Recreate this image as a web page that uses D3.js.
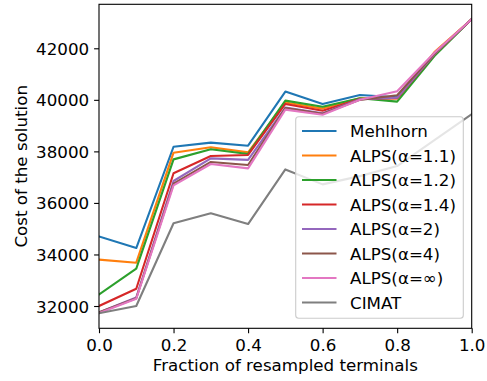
<!DOCTYPE html>
<meta charset="utf-8">
<style>
body {
  margin: 0;
  background: #fff; }
svg text {
  font-family: "DejaVu Sans", sans-serif;
  font-size: 16.7px;
  fill: #000; }
.axis path, .axis line {
  stroke: #000;
  stroke-width: 1.1px;
  shape-rendering: auto; }
.series {
  fill: none;
  stroke-width: 2.1px;
  stroke-linejoin: round;
  stroke-linecap: square; }
</style>
<svg id="chart" width="487" height="381"></svg>

<script src="https://d3js.org/d3.v7.min.js"></script>
<script>
// ********** DATA **********
var fractions = [0, 0.1, 0.2, 0.3, 0.4, 0.5, 0.6, 0.7, 0.8, 0.9, 1.0];
var seriesNames = ["Mehlhorn", "ALPS(α=1.1)", "ALPS(α=1.2)", "ALPS(α=1.4)", "ALPS(α=2)", "ALPS(α=4)", "ALPS(α=∞)", "CIMAT"];
var mehlhorn = [34700, 34250, 38180, 38340, 38220, 40320, 39840, 40190, 40100, 41760, 43130];
var alps11   = [33800, 33680, 37950, 38160, 37960, 39900, 39660, 40060, 40050, 41850, 43130];
var alps12   = [32450, 33450, 37690, 38080, 37900, 39970, 39730, 40060, 39930, 41700, 43130];
var alps14   = [32000, 32670, 37150, 37820, 37860, 39840, 39580, 40030, 40060, 41770, 43130];
var alps2    = [31750, 32330, 36850, 37730, 37670, 39700, 39480, 40020, 40080, 41780, 43130];
var alps4    = [31750, 32300, 36750, 37590, 37470, 39680, 39460, 40000, 40180, 41800, 43130];
var alpsInf  = [31720, 32280, 36680, 37510, 37340, 39620, 39420, 40000, 40330, 41830, 43130];
var cimat    = [31720, 32000, 35210, 35600, 35180, 37300, 36720, 37040, 37430, 38440, 39440];
var xTicks = [0, 0.2, 0.4, 0.6, 0.8, 1.0];
var yTicks = [32000, 34000, 36000, 38000, 40000, 42000];

var allSeries = [mehlhorn, alps11, alps12, alps14, alps2, alps4, alpsInf, cimat];
var colors = ["#1f77b4", "#ff7f0e", "#2ca02c", "#d62728", "#9467bd", "#8c564b", "#e377c2", "#7f7f7f"];

// ********** LAYOUT **********
var svg = d3.select("#chart"),
  pLeft = 99, pRight = 471.7, pTop = 4.3, pBottom = 328.3;

var x = d3.scaleLinear().domain([0, 1]).range([pLeft, pRight]);
var y = d3.scaleLinear().domain([31135, 43707]).range([pBottom, pTop]);

svg.append("clipPath").attr("id", "plotclip")
  .append("rect").attr("x", pLeft).attr("y", pTop)
  .attr("width", pRight - pLeft).attr("height", pBottom - pTop);

// lines
var line = d3.line()
  .x(function (d, i) { return x(fractions[i]); })
  .y(function (d) { return y(d); });

svg.append("g").attr("clip-path", "url(#plotclip)")
  .selectAll("path").data(allSeries).enter().append("path")
  .attr("class", "series")
  .attr("d", line)
  .style("stroke", function (d, i) { return colors[i]; });

// axes
var xAxis = svg.append("g").attr("class", "axis")
  .attr("transform", "translate(0," + pBottom + ")")
  .call(d3.axisBottom(x).tickValues(xTicks).tickSize(4.9).tickPadding(4.9)
    .tickFormat(d3.format(".1f")));
xAxis.selectAll("text").attr("dy", null).attr("y", 23);

var yAxis = svg.append("g").attr("class", "axis")
  .attr("transform", "translate(" + pLeft + ",0)")
  .call(d3.axisLeft(y).tickValues(yTicks).tickSize(4.9).tickPadding(4.9)
    .tickFormat(d3.format("d")));
yAxis.selectAll("text").attr("dy", "0.36em");

svg.selectAll(".axis text").style("font-size", "16.7px")
  .style("font-family", "'DejaVu Sans', sans-serif").attr("fill", "#000");
svg.selectAll(".axis .domain").remove();

// frame (all four spines)
svg.append("rect")
  .attr("x", pLeft).attr("y", pTop)
  .attr("width", pRight - pLeft).attr("height", pBottom - pTop)
  .style("fill", "none").style("stroke", "#000").style("stroke-width", 1.1);

// axis titles
svg.append("text")
  .attr("x", (pLeft + pRight) / 2).attr("y", 371)
  .attr("text-anchor", "middle")
  .text("Fraction of resampled terminals");

svg.append("text")
  .attr("transform", "translate(26.5," + (pTop + pBottom) / 2 + ")rotate(-90)")
  .attr("text-anchor", "middle")
  .text("Cost of the solution");

// ********** LEGEND **********
var legend = svg.append("g");
legend.append("rect")
  .attr("x", 295.7).attr("y", 116.7)
  .attr("width", 463.3 - 295.7).attr("height", 318.3 - 116.7)
  .attr("rx", 3)
  .style("fill", "#fff").style("fill-opacity", 0.8)
  .style("stroke", "#cccccc").style("stroke-width", 1.1);

var item = legend.selectAll("g.item").data(seriesNames).enter().append("g")
  .attr("class", "item")
  .attr("transform", function (d, i) { return "translate(0," + (131 + i * 24.5) + ")"; });

item.append("line")
  .attr("x1", 302).attr("x2", 336.5)
  .style("stroke", function (d, i) { return colors[i]; })
  .style("stroke-width", 2.1);

item.append("text")
  .attr("x", 350).attr("dy", "0.36em")
  .text(function (d) { return d; });
</script>
